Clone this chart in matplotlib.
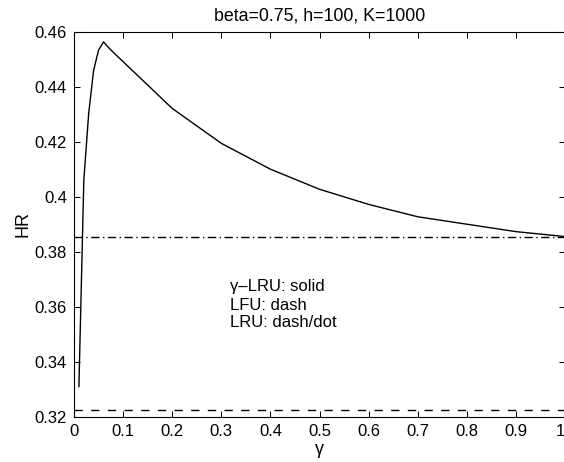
import matplotlib
matplotlib.use("Agg")
import matplotlib.pyplot as plt

gamma = [0.01, 0.02, 0.03, 0.04, 0.05, 0.06, 0.07, 0.08, 0.09, 0.1,
         0.2, 0.3, 0.4, 0.5, 0.6, 0.7, 0.8, 0.9, 1.0]
hr_glru = [0.331, 0.406, 0.4305, 0.446, 0.4533, 0.4563, 0.4543, 0.4525, 0.4508, 0.4491,
           0.4321, 0.4194, 0.4100, 0.4027, 0.3972, 0.3927, 0.3900, 0.3873, 0.3855]
hr_lfu = 0.3224
hr_lru = 0.3855

xticks = [0, 0.1, 0.2, 0.3, 0.4, 0.5, 0.6, 0.7, 0.8, 0.9, 1.0]
xticklabels = ["0", "0.1", "0.2", "0.3", "0.4", "0.5", "0.6", "0.7", "0.8", "0.9", "1"]
yticks = [0.32, 0.34, 0.36, 0.38, 0.40, 0.42, 0.44, 0.46]
yticklabels = ["0.32", "0.34", "0.36", "0.38", "0.4", "0.42", "0.44", "0.46"]

plt.rcParams['font.family'] = ['Liberation Sans', 'DejaVu Sans']

fig = plt.figure(figsize=(5.64, 4.62), dpi=100)
ax = fig.add_axes([74/564, 0.098, 490/564 + 0.002, 0.9314 - 0.098])

ax.plot(gamma, hr_glru, color='black', lw=1.0)
ax.plot([0, 1], [hr_lfu, hr_lfu], color='black', lw=1.0, dashes=(6, 6))
ax.plot([0, 1], [hr_lru, hr_lru], color='black', lw=1.0, dashes=(6, 2.5, 1, 2.5))

ax.set_xlim(0, 1)
ax.set_ylim(0.32, 0.46)
ax.set_xticks(xticks)
ax.set_xticklabels(xticklabels)
ax.set_yticks(yticks)
ax.set_yticklabels(yticklabels)
ax.tick_params(direction='in', length=4, width=0.75, top=True, right=True,
               labelsize=12, pad=5)
ax.get_xticklabels()[-1].set_horizontalalignment('right')
for s in ax.spines.values():
    s.set_linewidth(0.8)

ax.set_title("beta=0.75, h=100, K=1000", fontsize=12.8, pad=8)
ax.set_xlabel("γ", fontsize=13, labelpad=2)
ax.set_ylabel("HR", fontsize=13, labelpad=2)

ax.text(0.318, 0.3672, "γ–LRU: solid", fontsize=12, va='center', ha='left')
ax.text(0.318, 0.3606, "LFU: dash", fontsize=12, va='center', ha='left')
ax.text(0.318, 0.3541, "LRU: dash/dot", fontsize=12, va='center', ha='left')

fig.savefig("out.png", dpi=100)
